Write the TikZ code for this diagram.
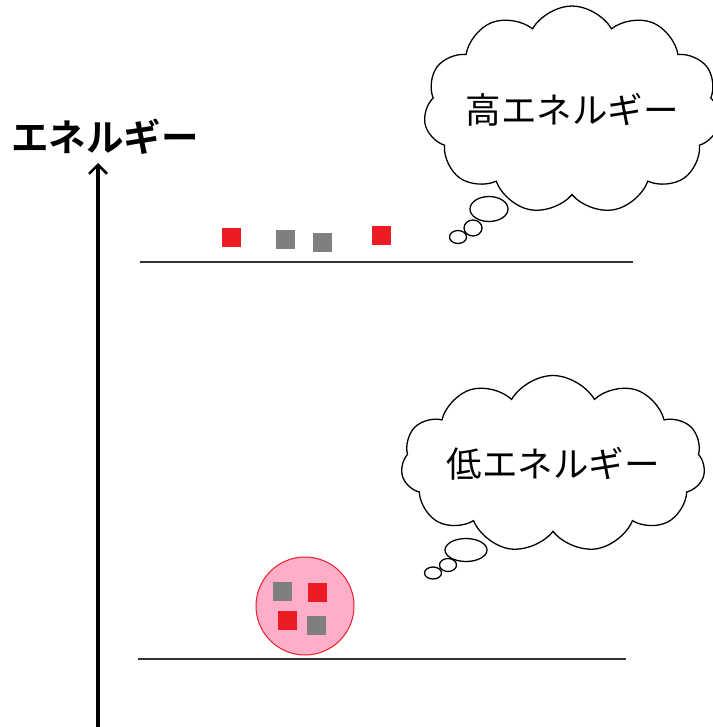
\documentclass[tikz,border=0pt]{standalone}
\usepackage{fontspec}
\usepackage{tikz}
\usetikzlibrary{arrows.meta,positioning,shapes.symbols,shapes.geometric}
\newfontfamily\jpfont{Noto Sans CJK JP}[BoldFont={Noto Sans CJK JP Bold}]
\definecolor{pxred}{RGB}{237,28,36}
\definecolor{pxgray}{RGB}{127,127,127}
\definecolor{pxpink}{RGB}{255,174,201}

\begin{document}
\begin{tikzpicture}[
    x=1pt,
    y=-1pt,
    >={Straight Barb[length=9pt,width=18pt,line width=2.5pt]},
    particle/.style={minimum size=19pt, inner sep=0pt, outer sep=0pt},
    redp/.style={particle, fill=pxred},
    grayp/.style={particle, fill=pxgray},
    thought/.style={
        cloud,
        cloud puffs=11,
        cloud puff arc=120,
        cloud ignores aspect,
        draw,
        line width=1.3pt,
        fill=white,
        inner sep=0pt,
        font=\jpfont\fontsize{35.5}{40}\selectfont
    },
    puff/.style={ellipse, draw, line width=1.3pt, fill=white, inner sep=0pt},
    level/.style={line width=2pt, black!80}
]

\useasboundingbox (0,0) rectangle (712,727);

% Energy axis
\coordinate (axbot) at (98,727);
\coordinate (axtop) at (98,163);
\node[font=\jpfont\bfseries\fontsize{37.5}{42}\selectfont] (axlabel) at (105,137) {エネルギー};
\draw[->, line width=4.5pt] (axbot) -- (axtop);

% Energy levels
\coordinate (hiL) at (140,262);
\coordinate (hiR) at (633,262);
\coordinate (loL) at (138,659);
\coordinate (loR) at (626,659);
\draw[level] (hiL) -- (hiR);
\draw[level] (loL) -- (loR);

% Free particles (high level)
\node[redp]  (hia) at (231.5,237) {};
\node[grayp] (hib) at (285.5,239.5) {};
\node[grayp] (hic) at (322.5,242) {};
\node[redp]  (hid) at (381.5,235) {};

% Bound cluster (low level)
\node[
    circle,
    draw=pxred,
    fill=pxpink,
    line width=1pt,
    minimum size=98pt,
    inner sep=0pt
] (cluster) at (305,606) {};
\node[grayp] (cla) at (282.5,591) {};
\node[redp]  (clb) at (317,592.5) {};
\node[redp]  (clc) at (287.5,620.5) {};
\node[grayp] (cld) at (316.5,625) {};

% Thought clouds
\node[thought, minimum width=290pt, minimum height=208pt] (hicloud) at (572,110) {高エネルギー};
\node[puff, minimum width=38pt, minimum height=25pt] (hipa) at (489,209) {};
\node[puff, minimum width=18pt, minimum height=16pt] (hipb) at (473,228) {};
\node[puff, minimum width=17pt, minimum height=13pt] (hipc) at (458,237) {};

\node[thought, minimum width=304pt, minimum height=177pt] (locloud) at (553,464) {低エネルギー};
\node[puff, minimum width=42pt, minimum height=23pt] (lopa) at (466,550) {};
\node[puff, minimum width=17pt, minimum height=13pt] (lopb) at (448,565) {};
\node[puff, minimum width=17pt, minimum height=12pt] (lopc) at (433,573) {};
\end{tikzpicture}
\end{document}
